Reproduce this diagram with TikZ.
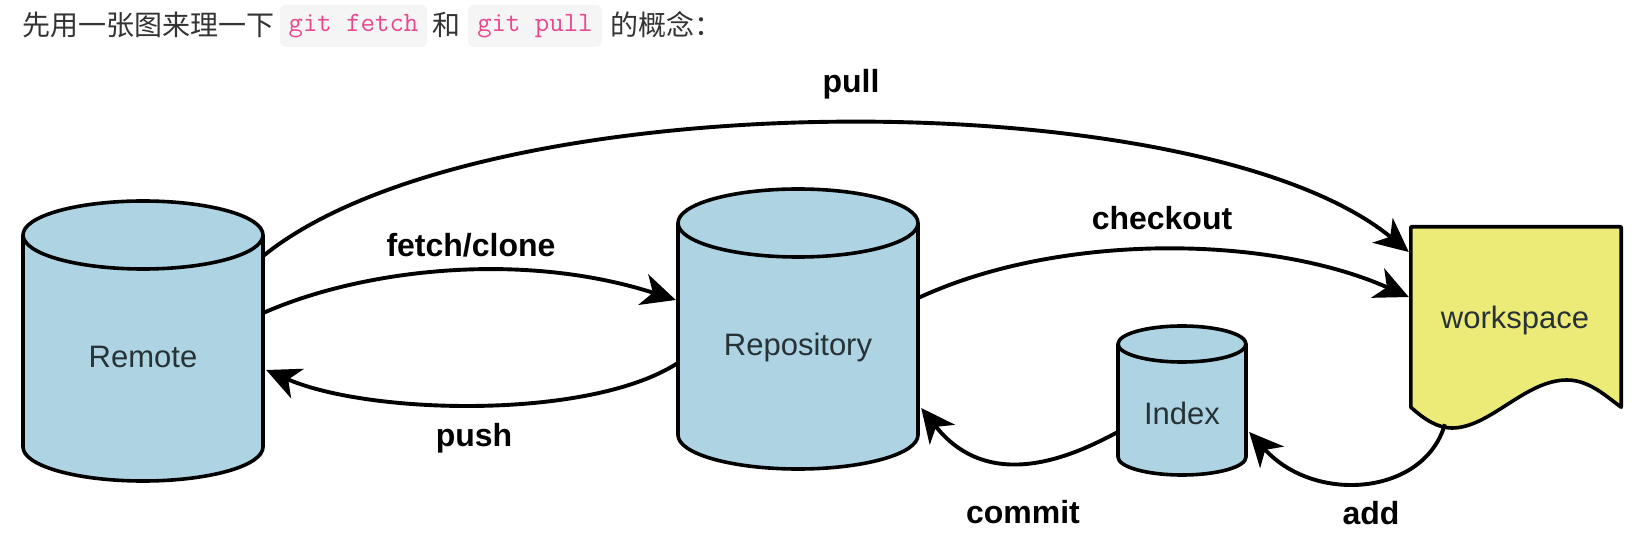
\documentclass[tikz,border=0pt]{standalone}
\usepackage{fontspec}
\setmainfont{Liberation Sans}
\newfontfamily\cjk{Noto Sans CJK SC}
\usetikzlibrary{arrows.meta}
\definecolor{cylblue}{HTML}{AED4E3}
\definecolor{wsyellow}{HTML}{EDEB78}
\definecolor{nodegray}{HTML}{263236}
\definecolor{hdrgray}{HTML}{333333}
\definecolor{codepink}{HTML}{E8488C}
\definecolor{codebg}{HTML}{F5F5F5}
\tikzset{
  shapeline/.style={draw=black, line width=3.6pt, line join=round},
  cylbody/.style={shapeline, fill=cylblue},
  nodetext/.style={font=\fontsize{31}{36}\selectfont, text=nodegray, inner sep=0pt},
  lab/.style={font=\bfseries\fontsize{32}{38}\selectfont, text=black, inner sep=0pt},
  arr/.style={line width=3.9pt, -{Stealth[length=34pt,width=32pt,inset=10pt]}},
  codebox/.style={fill=codebg, rounded corners=6pt, minimum height=42pt, inner sep=0pt,
    text=codepink, font=\ttfamily\fontsize{28}{32}\selectfont},
  hdr/.style={font=\cjk\fontsize{28}{32}\selectfont, text=hdrgray, inner sep=0pt}
}
\begin{document}
\begin{tikzpicture}[x=1pt,y=-1pt]
\useasboundingbox[fill=white] (0,0) rectangle (1650,540);

% header line
\node[hdr, anchor=west] (h1) at (22,25) {先用一张图来理一下};
\node[codebox, minimum width=147pt] (c1) at (353.5,26) {git fetch};
\node[hdr] (h2) at (446,25) {和};
\node[codebox, minimum width=134pt] (c2) at (535,26) {git pull};
\node[hdr, anchor=west] (h3) at (610,25) {的概念：};

% cylinders
\filldraw[cylbody] (23,235) -- (23,447) arc[start angle=180,end angle=360,x radius=120pt,y radius=34pt]
  -- (263,235) arc[start angle=0,end angle=180,x radius=120pt,y radius=34pt] -- cycle;
\draw[shapeline] (23,235) arc[start angle=180,end angle=360,x radius=120pt,y radius=34pt];
\node[nodetext, minimum width=240pt] (remote) at (143,357) {Remote};

\filldraw[cylbody] (678,223) -- (678,435) arc[start angle=180,end angle=360,x radius=120pt,y radius=34pt]
  -- (918,223) arc[start angle=0,end angle=180,x radius=120pt,y radius=34pt] -- cycle;
\draw[shapeline] (678,223) arc[start angle=180,end angle=360,x radius=120pt,y radius=34pt];
\node[nodetext, minimum width=240pt] (repo) at (798,347) {Repository};

\filldraw[cylbody] (1118,344) -- (1118,457) arc[start angle=180,end angle=360,x radius=64pt,y radius=18pt]
  -- (1246,344) arc[start angle=0,end angle=180,x radius=64pt,y radius=18pt] -- cycle;
\draw[shapeline] (1118,344) arc[start angle=180,end angle=360,x radius=64pt,y radius=18pt];
\node[nodetext, minimum width=128pt] (index) at (1182,413) {Index};

% workspace
\node[nodetext, minimum width=210pt, minimum height=180pt] (ws) at (1516,317) {};
\filldraw[shapeline, fill=wsyellow] (ws.north west) -- (ws.south west)
  .. controls (1425,420) and (1438,428) .. (1452,428)
  .. controls (1490,428) and (1525,380) .. (1567,380)
  .. controls (1590,380) and (1608,398) .. (ws.south east) -- (ws.north east) -- cycle;
\node[nodetext] (wstext) at (1515,320) {workspace};

% connectors
\draw[arr] ([yshift=101pt]remote.east) .. controls (480,80) and (1200,80) .. ([xshift=-2pt,yshift=65pt]ws.west);
\draw[arr] ([yshift=44pt]remote.east) .. controls (360,270) and (520,250) .. ([xshift=-2pt,yshift=47pt]repo.west);
\draw[arr] ([yshift=-16pt]repo.west) .. controls (590,420) and (370,415) .. ([xshift=3pt,yshift=-13pt]remote.east);
\draw[arr] ([yshift=49pt]repo.east) .. controls (1060,232) and (1270,235) .. ([xshift=-2pt,yshift=20pt]ws.west);
\draw[arr] ([yshift=-19pt]index.west) .. controls (1075,455) and (990,495) .. ([xshift=3pt,yshift=-61pt]repo.east);
\draw[arr] ([xshift=34pt,yshift=-17pt]ws.south west) .. controls (1425,495) and (1315,505) .. ([xshift=3pt,yshift=-19pt]index.east);

% labels
\node[lab] (lpull) at (851,84) {pull};
\node[lab] (lfetch) at (471,245) {fetch/clone};
\node[lab] (lpush) at (474,438) {push};
\node[lab] (lcheckout) at (1162,218) {checkout};
\node[lab] (lcommit) at (1023,512) {commit};
\node[lab] (ladd) at (1371,513) {add};
\end{tikzpicture}
\end{document}
